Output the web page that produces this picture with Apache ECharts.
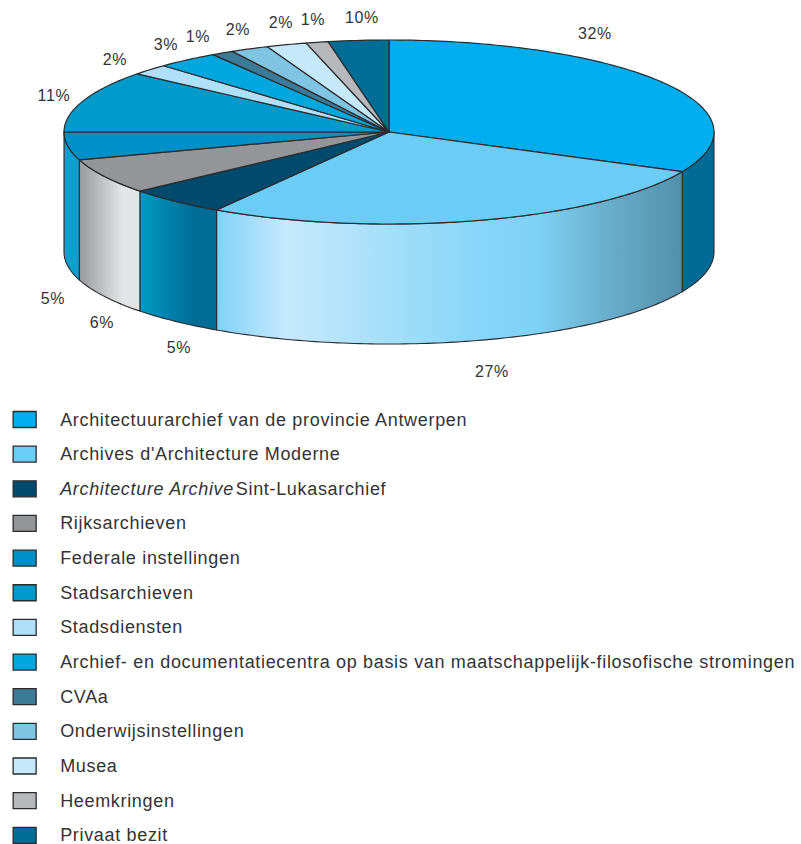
<!DOCTYPE html>
<html>
<head>
<meta charset="utf-8">
<title>Archieven</title>
<script src="https://cdn.jsdelivr.net/npm/echarts@6/dist/echarts.min.js"></script>
<style>
html, body { margin: 0; padding: 0; background: #fff; }
#chart { width: 801px; height: 844px; }
#chart text { letter-spacing: 0.67px; }
</style>
</head>
<body>
<div id="chart"></div>
<script>
var names = [
	'Architectuurarchief van de provincie Antwerpen',
	"Archives d'Architecture Moderne",
	'Architecture Archive Sint-Lukasarchief',
	'Rijksarchieven',
	'Federale instellingen',
	'Stadsarchieven',
	'Stadsdiensten',
	'Archief- en documentatiecentra op basis van maatschappelijk-filosofische stromingen',
	'CVAa',
	'Onderwijsinstellingen',
	'Musea',
	'Heemkringen',
	'Privaat bezit'
];
// slice sizes as drawn (the last slice is drawn much smaller than its printed 10%)
var sliceValues = [32.1, 26.8, 5, 6.2, 4.9, 10.9, 1.9, 3.1, 1.1, 1.9, 2, 1.1, 3];
var printedLabels = ['32%', '27%', '5%', '6%', '5%', '11%', '2%', '3%', '1%', '2%', '2%', '1%', '10%'];
var topColors = ['#00aeef', '#6bcdf6', '#004a6e', '#939598', '#0090c8', '#009bcb', '#aee0fa', '#00a7de', '#3d7a98', '#7fc4e3', '#c5e9fa', '#b6b8bc', '#006d97'];

// layout of the tilted disc
var cx = 389, cy = 132, rx = 325, ry = 92, depth = 120;
var labelAnchors = [[595, 33], [492, 371], [179, 347], [102, 322], [53, 298], [54, 95], [115, 59], [166, 44], [198, 36], [238, 29], [281, 22], [313, 19], [362, 17]];
var lineColor = '#2b2b2d';

function ramp(stops) {
	return {
		type: 'linear', x: 0, y: 0, x2: 1, y2: 0,
		colorStops: stops.map(function (s) { return { offset: s[0], color: s[1] }; })
	};
}
var wallFills = {
	0: '#006a96',
	1: ramp([[0, '#7fd2f8'], [0.15, '#c6e9fb'], [0.58, '#84d5f9'], [0.69, '#7ed2f5'], [0.83, '#6ab0cf'], [1, '#538fab']]),
	2: ramp([[0, '#009cc4'], [0.7, '#006c98'], [1, '#006c98']]),
	3: ramp([[0, '#98999c'], [0.72, '#e4e5e7'], [1, '#e2e3e5']]),
	4: '#109ecf'
};

var total = sliceValues.reduce(function (a, b) { return a + b; }, 0);
var starts = [];
sliceValues.reduce(function (sum, v, i) { starts[i] = sum; return sum + v; }, 0);

function rimPoint(deg, drop) {
	var t = deg * Math.PI / 180;
	return [cx + rx * Math.sin(t), cy - ry * Math.cos(t) + drop];
}
function arcPoints(from, to, drop) {
	var pts = [];
	var n = Math.max(2, Math.ceil(Math.abs(to - from)));
	for (var k = 0; k <= n; k++) {
		pts.push(rimPoint(from + (to - from) * k / n, drop));
	}
	return pts;
}

function makeRender(i) {
	return function (params, api) {
		var from = starts[i] / total * 360;
		var to = from + api.value(0) / total * 360;
		var children = [];
		// only the front half of the rim has a visible wall
		var a = Math.max(from, 90), b = Math.min(to, 270);
		if (b > a) {
			children.push({
				type: 'polygon',
				shape: { points: arcPoints(a, b, 0).concat(arcPoints(b, a, depth)) },
				style: { fill: wallFills[i], stroke: lineColor, lineWidth: 1.1, lineJoin: 'round' }
			});
		}
		children.push({
			type: 'polygon',
			shape: { points: [[cx, cy]].concat(arcPoints(from, to, 0)) },
			style: { fill: topColors[i], stroke: lineColor, lineWidth: 1.2, lineJoin: 'round' }
		});
		children.push({
			type: 'text',
			style: {
				x: labelAnchors[i][0], y: labelAnchors[i][1],
				text: printedLabels[i], fill: '#333335',
				font: '16px "Liberation Sans"', align: 'center', verticalAlign: 'middle'
			}
		});
		return { type: 'group', children: children };
	};
}

var series = names.map(function (name, i) {
	return {
		name: name,
		type: 'custom',
		coordinateSystem: 'none',
		silent: true,
		itemStyle: { color: topColors[i] },
		data: [[sliceValues[i]]],
		renderItem: makeRender(i)
	};
});

var chart = echarts.init(document.getElementById('chart'), null, { renderer: 'svg', width: 801, height: 844 });
chart.setOption({
	backgroundColor: '#fff',
	animation: false,
	legend: {
		orient: 'vertical',
		left: 12.5, top: 410.5,
		height: 440,
		padding: 0,
		itemWidth: 23, itemHeight: 16,
		itemGap: 16.65,
		selectedMode: false,
		icon: 'rect',
		itemStyle: { borderColor: lineColor, borderWidth: 1.3 },
		data: names,
		formatter: function (name) {
			if (name.indexOf('Architecture Archive') === 0) {
				return '{i|Architecture Archive}{n|' + name.replace('Architecture Archive', '') + '}';
			}
			return name;
		},
		textStyle: {
			fontFamily: 'Liberation Sans',
			fontSize: 18,
			lineHeight: 16,
			color: '#333335',
			padding: [0, 0, 0, 19],
			rich: {
				i: { fontStyle: 'italic', fontSize: 18, lineHeight: 16, width: 170, fontFamily: 'Liberation Sans', color: '#333335' },
				n: { fontSize: 18, lineHeight: 16, fontFamily: 'Liberation Sans', color: '#333335' }
			}
		}
	},
	series: series
});
</script>
</body>
</html>
